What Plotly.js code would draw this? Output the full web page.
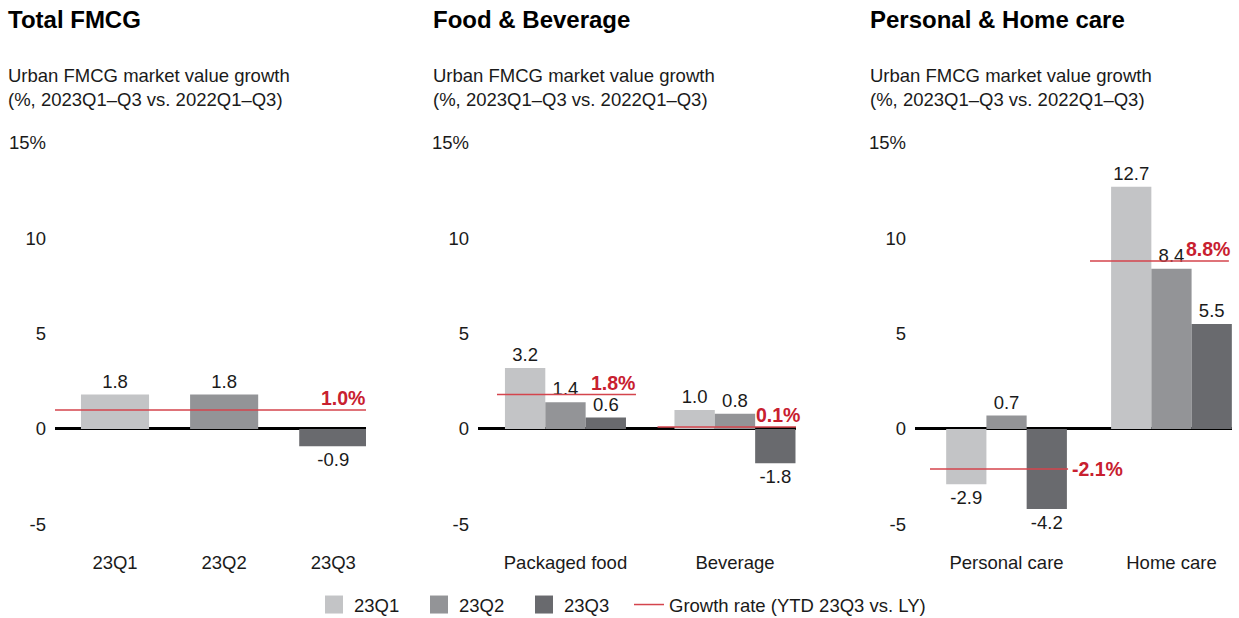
<!DOCTYPE html>
<html>
<head>
<meta charset="utf-8">
<script src="https://cdn.plot.ly/plotly-3.0.1.min.js"></script>
<style>
  body { margin: 0; background: #fff; }
  #graph { width: 1239px; height: 618px; }
</style>
</head>
<body>
<div id="graph"></div>
<script>
// datos
const seriesNames = ['23Q1', '23Q2', '23Q3'];
const growthName = 'Growth rate (YTD 23Q3 vs. LY)';

// Total FMCG
const totalCats = ['23Q1', '23Q2', '23Q3'];
const totalVals = [1.8, 1.8, -0.9];
const totalGrowth = 1.0;

// Food & Beverage
const fbCats = ['Packaged food', 'Beverage'];
const fbQ1 = [3.2, 1.0];
const fbQ2 = [1.4, 0.8];
const fbQ3 = [0.6, -1.8];
const fbGrowth = [1.8, 0.1];

// Personal & Home care
const phCats = ['Personal care', 'Home care'];
const phQ1 = [-2.9, 12.7];
const phQ2 = [0.7, 8.4];
const phQ3 = [-4.2, 5.5];
const phGrowth = [-2.1, 8.8];

const yTicks = [-5, 0, 5, 10, 15];
const yTickText = ['-5', '0', '5', '10', '15%'];

/* estetica */
const colors = ['#c3c4c6', '#939497', '#696a6e'];
const red = '#c8202f';
const lineRed = '#d4444d';
const font = 'Liberation Sans, Arial, Helvetica, sans-serif';
const txt = '#1a1a1a';
const fs = 18.5;

const traces = [];

// panel 1: una barra por serie
for (let i = 0; i < totalCats.length; i++) {
    traces.push({
        type: 'bar',
        x: [totalCats[i]],
        y: [totalVals[i]],
        xaxis: 'x', yaxis: 'y',
        width: 0.624, offset: -0.312,
        marker: {color: colors[i]},
        text: [totalVals[i].toFixed(1)],
        textposition: 'outside',
        constraintext: 'none',
        cliponaxis: false,
        textfont: {size: fs, color: txt, family: font},
        name: seriesNames[i],
        legendgroup: seriesNames[i],
        showlegend: true,
        legend: 'legend',
        hoverinfo: 'skip'
    });
}

// paneles 2 y 3: barras agrupadas
function groupTraces(cats, vals, ax, w) {
    vals.forEach((v, i) => {
        traces.push({
            type: 'bar',
            x: cats,
            y: v,
            xaxis: 'x' + ax, yaxis: 'y' + ax,
            width: w, offset: -1.5 * w + i * w,
            marker: {color: colors[i]},
            text: v.map(d => d.toFixed(1)),
            textposition: 'outside',
            constraintext: 'none',
            cliponaxis: false,
            textfont: {size: fs, color: txt, family: font},
            name: seriesNames[i],
            legendgroup: seriesNames[i],
            showlegend: false,
            hoverinfo: 'skip'
        });
    });
}
groupTraces(fbCats, [fbQ1, fbQ2, fbQ3], 2, 0.238);
groupTraces(phCats, [phQ1, phQ2, phQ3], 3, 0.244);

// solo para la leyenda de la linea roja
traces.push({
    type: 'scatter', mode: 'lines',
    x: [null], y: [null],
    xaxis: 'x', yaxis: 'y',
    line: {color: lineRed, width: 1.5},
    name: growthName,
    showlegend: true,
    legend: 'legend2'
});

// lineas de crecimiento (shapes) y etiquetas rojas
const shapes = [];
const annotations = [];

function growthLine(ax, cat, val, x0, x1, label) {
    shapes.push({
        type: 'line', xref: 'x' + ax, yref: 'y' + ax,
        x0: cat + x0, x1: cat + x1, y0: val, y1: val,
        line: {color: lineRed, width: 1.5}
    });
    annotations.push({
        xref: 'x' + ax, yref: 'y' + ax,
        x: cat + label.dx, y: val,
        xanchor: label.xa, yanchor: label.ya,
        xshift: label.xs || 0,
        yshift: label.ys || 0,
        text: '<b>' + val.toFixed(1) + '%</b>',
        showarrow: false,
        font: {size: 19.5, color: red, family: font}
    });
}

growthLine('', 0, totalGrowth, -0.55, 2.30, {dx: 2.29, xa: 'right', ya: 'bottom', ys: -1, xs: 2});
growthLine('2', 0, fbGrowth[0], -0.404, 0.416, {dx: 0.42, xa: 'right', ya: 'bottom', ys: -1});
growthLine('2', 1, fbGrowth[1], -0.457, 0.363, {dx: 0.355, xa: 'right', ya: 'bottom', ys: -1, xs: 7});
growthLine('3', 0, phGrowth[0], -0.464, 0.373, {dx: 0.385, xa: 'left', ya: 'middle'});
growthLine('3', 1, phGrowth[1], -0.494, 0.348, {dx: 0.355, xa: 'right', ya: 'bottom', ys: -1, xs: 2});

// titulos de cada panel
const titles = [
    {x: 6, t: 'Total FMCG'},
    {x: 431, t: 'Food &amp; Beverage'},
    {x: 868, t: 'Personal &amp; Home care'}
];
for (let t of titles) {
    annotations.push({
        xref: 'paper', yref: 'paper',
        x: t.x / 1239, y: 1 + (139 - 19) / 413,
        xanchor: 'left', yanchor: 'middle',
        text: '<b>' + t.t + '</b>',
        showarrow: false,
        font: {size: 24, color: '#000', family: font}
    });
    annotations.push({
        xref: 'paper', yref: 'paper',
        x: t.x / 1239, y: 1 + (139 - 87) / 413,
        xanchor: 'left', yanchor: 'middle', align: 'left',
        text: 'Urban FMCG market value growth<br>(%, 2023Q1\u2013Q3 vs. 2022Q1\u2013Q3)',
        showarrow: false,
        font: {size: fs, color: txt, family: font}
    });
}

const yaxisBase = {
    range: [-6.45, 15.2],
    tickvals: yTicks,
    ticktext: yTickText,
    showgrid: false,
    showline: false,
    ticks: '',
    ticklabelstandoff: 8,
    zeroline: true,
    zerolinecolor: '#000',
    zerolinewidth: 3,
    tickfont: {size: fs, color: txt, family: font},
    fixedrange: true
};
const xaxisBase = {
    type: 'category',
    showgrid: false,
    showline: false,
    ticks: '',
    ticklabelstandoff: -3,
    tickfont: {size: fs, color: txt, family: font},
    fixedrange: true
};

const legendY = -53 / 413;

const layout = {
    width: 1239, height: 618,
    margin: {l: 0, r: 0, t: 139, b: 66, autoexpand: false},
    paper_bgcolor: '#fff',
    plot_bgcolor: '#fff',
    font: {family: font, size: fs, color: txt},
    showlegend: true,
    legend: {
        orientation: 'h',
        x: 314 / 1239, xanchor: 'left',
        y: legendY, yanchor: 'middle',
        font: {size: fs, color: txt, family: font},
        entrywidth: 60,
        traceorder: 'normal'
    },
    legend2: {
        orientation: 'h',
        x: 629 / 1239, xanchor: 'left',
        y: legendY, yanchor: 'middle',
        font: {size: fs, color: txt, family: font}
    },
    xaxis: Object.assign({}, xaxisBase, {domain: [55 / 1239, 366 / 1239], range: [-0.55, 2.30], anchor: 'y'}),
    xaxis2: Object.assign({}, xaxisBase, {domain: [478 / 1239, 796 / 1239], range: [-0.516, 1.36], anchor: 'y2'}),
    xaxis3: Object.assign({}, xaxisBase, {domain: [915 / 1239, 1232 / 1239], range: [-0.555, 1.367], anchor: 'y3'}),
    yaxis: Object.assign({}, yaxisBase, {anchor: 'x'}),
    yaxis2: Object.assign({}, yaxisBase, {anchor: 'x2'}),
    yaxis3: Object.assign({}, yaxisBase, {anchor: 'x3'}),
    shapes: shapes,
    annotations: annotations
};

Plotly.newPlot('graph', traces, layout, {staticPlot: true}).then(gd => {
    // cuadros de leyenda de 18px como en el original
    gd.querySelectorAll('.legend .traces path').forEach(p => {
        if (p.closest('.legendlines')) return;
        const d = p.getAttribute('d') || '';
        if (/^M6,6H-6V-6H6Z$/.test(d)) p.setAttribute('d', 'M9,9H-9V-9H9Z');
    });
});
</script>
</body>
</html>
